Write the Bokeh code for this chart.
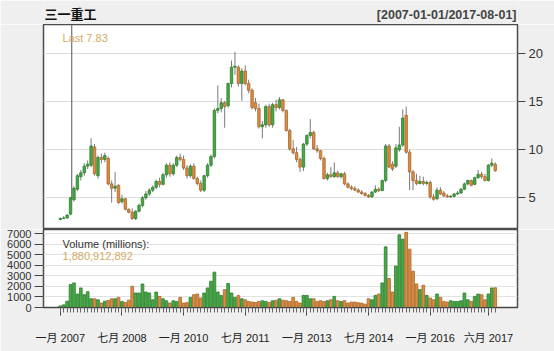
from bokeh.plotting import figure
from bokeh.layouts import column
from bokeh.models import ColumnDataSource, FixedTicker, Label, Range1d
from bokeh.core.properties import value
from bokeh.embed import file_html
from bokeh.resources import INLINE

# ---------------- data (monthly, Jan 2007 .. Aug 2017) ----------------
months = list(range(128))
opens = [2.75, 2.85, 2.9, 3.3, 4.8, 5.9, 7.2, 7.6, 8.3, 8.4,
         10.3, 7.3, 9.2, 9.0, 9.1, 6.45, 6.0, 6.3, 4.6, 4.9,
         3.8, 3.5, 2.85, 3.6, 4.2, 5.0, 5.4, 5.8, 6.1, 6.7,
         6.4, 7.4, 8.4, 7.5, 8.4, 9.2, 9.0, 8.1, 7.3, 8.3,
         7.0, 6.5, 5.8, 7.3, 8.4, 9.3, 14.1, 14.3, 14.9, 14.6,
         16.9, 18.6, 18.6, 16.9, 18.2, 16.9, 16.2, 14.9, 14.3, 12.4,
         12.6, 14.5, 12.6, 14.7, 14.4, 15.2, 14.1, 12.0, 10.1, 9.7,
         9.0, 8.2, 10.6, 11.5, 11.8, 10.1, 9.9, 9.1, 7.0, 7.4,
         7.2, 7.6, 7.2, 7.5, 6.45, 6.1, 5.95, 5.8, 5.6, 5.45,
         5.25, 5.1, 5.6, 5.9, 5.75, 6.8, 10.4, 8.5, 8.3, 10.0,
         10.5, 13.6, 9.75, 7.7, 6.8, 6.5, 6.7, 6.5, 6.6, 5.1,
         4.9, 5.8, 5.5, 5.2, 5.1, 5.15, 5.4, 5.5, 5.9, 6.45,
         6.8, 6.4, 7.1, 7.45, 7.2, 6.8, 8.4, 8.5]
highs = [2.95, 3.1, 3.3, 5.1, 6.2, 7.5, 7.9, 8.6, 8.9, 11.2,
         10.6, 9.4, 9.6, 9.7, 9.3, 6.8, 7.7, 6.4, 5.3, 5.0,
         3.9, 3.9, 3.7, 4.4, 5.2, 5.7, 6.0, 6.3, 6.9, 7.1,
         7.6, 8.6, 8.7, 8.6, 9.4, 9.6, 9.4, 8.4, 8.5, 8.6,
         7.2, 6.8, 7.4, 8.6, 9.5, 14.3, 16.7, 15.4, 15.1, 17.0,
         19.3, 20.2, 18.8, 18.5, 18.8, 17.3, 16.4, 15.4, 14.8, 13.0,
         14.7, 14.8, 14.9, 15.2, 15.5, 15.3, 14.2, 12.2, 11.0, 10.3,
         9.2, 10.7, 11.6, 13.2, 12.0, 10.5, 10.0, 9.3, 7.6, 8.2,
         8.7, 7.8, 7.6, 7.7, 6.6, 6.3, 6.2, 6.0, 5.8, 5.6,
         5.4, 5.7, 6.3, 6.1, 6.9, 10.6, 10.6, 8.8, 10.6, 12.4,
         14.2, 14.5, 10.0, 7.9, 7.5, 7.3, 7.2, 6.8, 6.8, 5.4,
         6.1, 6.1, 5.7, 5.4, 5.3, 5.5, 5.7, 6.0, 6.6, 6.9,
         6.9, 7.2, 7.9, 7.7, 7.5, 8.5, 9.1, 8.7]
lows = [2.65, 2.8, 2.85, 3.2, 4.6, 5.7, 6.8, 7.3, 8.0, 8.2,
        7.3, 7.0, 8.6, 8.7, 6.3, 4.5, 5.6, 4.4, 4.4, 3.7,
        3.4, 2.7, 2.7, 3.5, 4.0, 4.8, 5.2, 5.6, 5.9, 6.1,
        6.3, 7.1, 7.2, 7.3, 8.2, 8.8, 7.9, 7.0, 7.1, 6.9,
        6.3, 5.6, 5.6, 7.1, 8.2, 9.1, 13.8, 13.9, 12.3, 14.4,
        16.5, 17.8, 16.6, 15.1, 16.7, 15.9, 14.2, 14.0, 12.2, 11.2,
        12.3, 12.4, 12.3, 14.0, 14.2, 13.9, 11.9, 9.9, 9.5, 8.7,
        7.7, 7.8, 10.4, 11.2, 10.0, 9.7, 8.9, 6.9, 6.8, 7.1,
        7.1, 7.1, 7.0, 6.3, 6.0, 5.8, 5.7, 5.5, 5.3, 5.15,
        5.0, 5.0, 5.5, 5.6, 5.7, 6.6, 8.1, 7.8, 8.1, 9.8,
        10.3, 9.6, 5.8, 5.8, 6.3, 6.4, 6.3, 6.3, 4.9, 4.7,
        4.8, 5.3, 5.1, 5.0, 5.0, 5.05, 5.3, 5.4, 5.8, 6.3,
        6.2, 6.3, 7.0, 7.0, 6.7, 6.7, 8.2, 7.7]
closes = [2.85, 2.9, 3.2, 5.0, 6.0, 7.3, 7.6, 8.3, 8.5, 10.4,
          7.5, 9.2, 9.0, 9.4, 6.45, 6.0, 6.2, 4.5, 4.9, 3.8,
          3.5, 2.85, 3.6, 4.2, 5.0, 5.4, 5.8, 6.1, 6.7, 6.4,
          7.4, 8.4, 7.5, 8.4, 9.2, 9.0, 8.1, 7.3, 8.3, 7.0,
          6.5, 5.8, 7.3, 8.4, 9.3, 14.1, 14.3, 14.9, 14.5, 16.9,
          18.6, 18.7, 16.9, 18.2, 16.9, 16.2, 14.4, 14.3, 12.4, 12.6,
          14.5, 12.6, 14.7, 14.4, 15.2, 14.1, 12.0, 10.1, 9.7, 9.0,
          8.2, 10.6, 11.5, 11.8, 10.1, 9.9, 9.1, 7.0, 7.4, 7.2,
          7.6, 7.2, 7.5, 6.45, 6.1, 5.95, 5.8, 5.6, 5.45, 5.25,
          5.1, 5.6, 5.9, 5.75, 6.8, 10.4, 8.2, 8.0, 10.2, 10.5,
          13.3, 9.75, 7.7, 6.8, 6.5, 6.7, 6.5, 6.6, 5.1, 4.85,
          5.8, 5.4, 5.2, 5.1, 5.15, 5.4, 5.5, 5.9, 6.45, 6.8,
          6.3, 7.1, 7.45, 7.2, 6.8, 8.4, 8.6, 7.83]
volumes = [150, 250, 600, 2180, 2340, 1280, 1860, 1220, 1500, 830,
           830, 740, 420, 600, 670, 830, 830, 960, 580, 480,
           700, 2020, 1380, 1380, 2240, 1470, 1380, 740, 1470, 1060,
           830, 640, 420, 640, 580, 960, 420, 480, 960, 1220,
           1280, 900, 1380, 1860, 2500, 3365, 1470, 1150, 1700, 2280,
           1380, 960, 1150, 830, 740, 580, 520, 480, 580, 640,
           580, 480, 640, 700, 833, 700, 640, 577, 962, 577,
           417, 1154, 1154, 833, 833, 577, 641, 577, 641, 737,
           1058, 641, 577, 641, 417, 513, 513, 450, 417, 320,
           833, 737, 1154, 1282, 2340, 5770, 2760, 1474, 3940, 6920,
           6500, 7150, 5550, 3460, 2244, 1699, 2115, 1154, 897, 737,
           1282, 962, 577, 513, 641, 577, 577, 641, 1378, 737,
           577, 1058, 1282, 1218, 737, 1282, 1859, 1881]

x_tick_months = [0, 18, 36, 54, 72, 90, 108, 125]
x_tick_labels = ["一月 2007", "七月 2008", "一月 2010", "七月 2011",
                 "一月 2013", "七月 2014", "一月 2016", "六月 2017"]
price_ticks = [5, 10, 15, 20]
volume_ticks = [0, 1000, 2000, 3000, 4000, 5000, 6000, 7000]
chart_title = "三一重工"
date_span = "[2007-01-01/2017-08-01]"
last_text = "Last 7.83"
volume_title = "Volume (millions):"
volume_last = "1,880,912,892"
cursor_month = [3.35]
cursor_low = [4.8]

# ---------------- styling ----------------
UP_FILL, UP_LINE = "#45a945", "#2e7d2e"
DN_FILL, DN_LINE = "#dc8c40", "#a8662a"
BG = "#efefef"
NUM_FONT = "Liberation Sans, 'Noto Sans CJK SC'"

up = [c >= o for o, c in zip(opens, closes)]
src = ColumnDataSource(dict(
    x=months, o=opens, h=highs, l=lows, c=closes, v=volumes,
    top=[max(o, c) for o, c in zip(opens, closes)],
    bot=[min(o, c) for o, c in zip(opens, closes)],
    fill=[UP_FILL if u else DN_FILL for u in up],
    line=[UP_LINE if u else DN_LINE for u in up],
))

x_range = Range1d(-4.9, 133.5)

# ---------------- header strip (title texts) ----------------
# its frame lines up with the panels below (pixel columns 43..517)
hdr = figure(width=554, height=24, x_range=Range1d(43, 517), y_range=Range1d(0, 24),
             output_backend="svg", toolbar_location=None, x_axis_location=None,
             y_axis_location=None, min_border_left=43, min_border_right=37,
             min_border_top=0, min_border_bottom=0)
hdr.outline_line_color = None
hdr.background_fill_color = BG
hdr.border_fill_color = BG
hdr.grid.visible = False
hdr.text(x=[44], y=[11], text=[chart_title], text_font=value("Noto Sans CJK SC"),
         text_font_style="bold", text_font_size="13px", text_color="#111111",
         text_baseline="middle", text_align="left")
hdr.text(x=[516], y=[10], text=[date_span], text_font=value(NUM_FONT),
         text_font_style="bold", text_font_size="12.5px", text_color="#444444",
         text_baseline="middle", text_align="right")

# ---------------- price panel ----------------
p1 = figure(width=554, height=205, x_range=x_range, y_range=Range1d(1.70, 23.05),
            output_backend="svg", toolbar_location=None, x_axis_location=None,
            y_axis_location="right", min_border_left=43, min_border_right=37,
            min_border_top=0, min_border_bottom=0)
p1.background_fill_color = "white"
p1.border_fill_color = BG
p1.outline_line_color = "#4d4d4d"
p1.outline_line_width = 1.5
p1.xgrid.visible = False
p1.ygrid.grid_line_color = "#dcdcdc"
p1.ygrid.ticker = FixedTicker(ticks=price_ticks)
ax = p1.yaxis[0]
ax.ticker = FixedTicker(ticks=price_ticks)
ax.axis_line_color = None
ax.major_tick_line_color = "#444444"
ax.major_tick_out = 8
ax.major_tick_in = 0
ax.minor_tick_line_color = None
ax.major_label_standoff = 3
ax.major_label_text_font = NUM_FONT
ax.major_label_text_font_size = "13px"
ax.major_label_text_color = "#333333"

p1.segment(x0=cursor_month, y0=cursor_low, x1=cursor_month, y1=[23.05],
           line_color="#555555", line_width=1)
p1.segment("x", "h", "x", "l", source=src, line_color="#7a7a7a", line_width=1)
p1.vbar(x="x", top="top", bottom="bot", width=0.72, source=src,
        fill_color="fill", line_color="line", line_width=0.8)

p1.add_layout(Label(x=19, y=192, x_units="screen", y_units="screen", text=last_text,
                    text_font=NUM_FONT, text_font_size="11px", text_color="#d6aa62",
                    text_baseline="middle"))

# ---------------- volume panel ----------------
p2 = figure(width=554, height=122, x_range=x_range, y_range=Range1d(0, 7420),
            output_backend="svg", toolbar_location=None,
            min_border_left=43, min_border_right=37, min_border_top=0, min_border_bottom=44)
p2.background_fill_color = "white"
p2.border_fill_color = BG
p2.outline_line_color = "#4d4d4d"
p2.outline_line_width = 1.5
p2.xgrid.visible = False
p2.ygrid.grid_line_color = "#e2e2e2"
p2.ygrid.ticker = FixedTicker(ticks=volume_ticks)
ya = p2.yaxis[0]
ya.ticker = FixedTicker(ticks=volume_ticks)
ya.axis_line_color = None
ya.major_tick_line_color = "#444444"
ya.major_tick_out = 9
ya.major_tick_in = 0
ya.minor_tick_line_color = None
ya.major_label_standoff = 3
ya.major_label_text_font = NUM_FONT
ya.major_label_text_font_size = "11px"
ya.major_label_text_color = "#333333"
xa = p2.xaxis[0]
xa.ticker = FixedTicker(ticks=x_tick_months, minor_ticks=months)
xa.major_label_overrides = {m: t for m, t in zip(x_tick_months, x_tick_labels)}
xa.axis_line_color = "#444444"
xa.major_tick_line_color = "#444444"
xa.minor_tick_line_color = "#666666"
xa.major_tick_out = 8
xa.major_tick_in = 0
xa.minor_tick_out = 5
xa.minor_tick_in = 0
xa.major_label_standoff = 16
xa.major_label_text_font = NUM_FONT
xa.major_label_text_font_size = "11px"
xa.major_label_text_color = "#222222"

p2.vbar(x="x", top="v", bottom=0, width=0.8, source=src,
        fill_color="fill", line_color="line", line_width=0.8)

p2.add_layout(Label(x=19, y=64, x_units="screen", y_units="screen", text=volume_title,
                    text_font=NUM_FONT, text_font_size="11px", text_color="#333333",
                    text_baseline="middle"))
p2.add_layout(Label(x=19, y=52, x_units="screen", y_units="screen", text=volume_last,
                    text_font=NUM_FONT, text_font_size="11px", text_color="#d6aa62",
                    text_baseline="middle"))

layout = column(hdr, p1, p2, spacing=0)
open("out.html", "w").write(file_html(layout, INLINE))
